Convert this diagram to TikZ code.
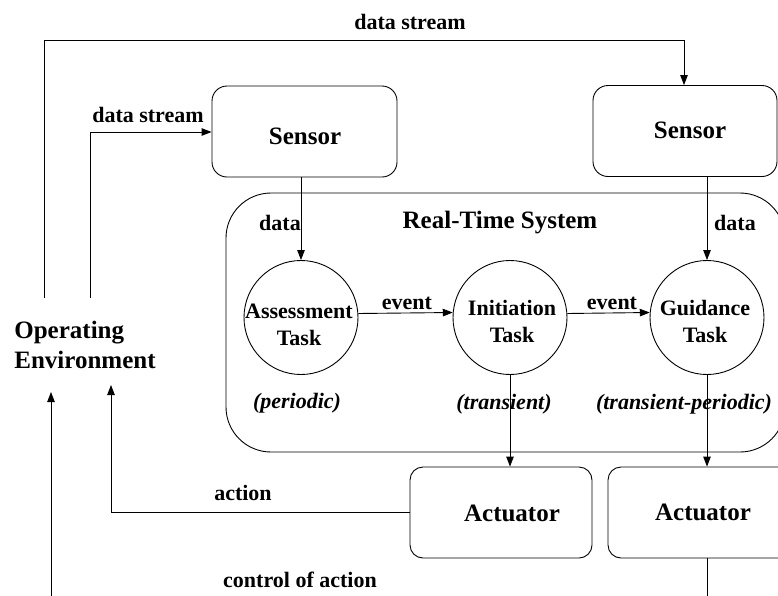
\documentclass[tikz,border=0pt]{standalone}
\usepackage{fontspec}
\setmainfont{Liberation Serif}
\usetikzlibrary{arrows.meta}
\begin{document}
\begin{tikzpicture}[x=1pt,y=-1pt,
  every node/.style={font=\fontsize{22}{27}\selectfont\bfseries, inner sep=0pt},
  big/.style={font=\fontsize{25}{30}\selectfont\bfseries},
  lab/.style={font=\fontsize{22}{27}\selectfont\bfseries},
  ital/.style={font=\fontsize{22}{27}\selectfont\bfseries\itshape},
  sbox/.style={draw, line width=0.9pt, rounded corners=15pt, minimum width=#1, minimum height=91pt},
  task/.style={draw, line width=0.9pt, circle, minimum size=114pt, align=center},
  conn/.style={line width=0.9pt, -{Triangle[length=10pt,width=7.5pt]}},
  plain/.style={line width=0.9pt}
]
\useasboundingbox (0,0) rectangle (778,595);
\clip (0,0) rectangle (778,595);

% Real-time system container
\node[draw, line width=0.9pt, rounded corners=45pt, minimum width=559pt, minimum height=259pt] (rts) at (505.5,322.5) {};
\node[big] (rtslabel) at (500,223) {Real-Time System};

% Sensors
\node[sbox=185pt] (sensorA) at (304.5,131.5) {};
\node[big] (sensorAlab) at (305,136) {Sensor};
\node[sbox=184pt] (sensorB) at (685,131) {};
\node[big] (sensorBlab) at (690,130) {Sensor};

% Actuators
\node[sbox=182pt, rounded corners=13pt] (actA) at (501,512.5) {};
\node[big] (actAlab) at (512,513) {Actuator};
\node[sbox=187pt, rounded corners=13pt] (actB) at (701.5,512.5) {};
\node[big] (actBlab) at (703,512) {Actuator};

% Tasks
\node[task] (assess) at (301,317.5) {};
\node[lab, align=center] (assesslab) at (299,325) {Assessment\\Task};
\node[task] (init) at (510,317.5) {};
\node[lab, align=center] (initlab) at (512,321) {Initiation\\Task};
\node[task] (guide) at (707,317.5) {};
\node[lab, align=center] (guidelab) at (705,321) {Guidance\\Task};

\node[ital] (per) at (297,403) {(periodic)};
\node[ital] (tra) at (504,404) {(transient)};
\node[ital] (trp) at (684,404) {(transient-periodic)};

% Operating environment
\node[big, align=left] (env) at (85,345) {Operating\\Environment};

% Free-end coordinates
\coordinate (envA) at (44,298);
\coordinate (envB) at (90,298);
\coordinate (envC) at (111,385);
\coordinate (envD) at (51,392);
\coordinate (low) at (51,640);

% Top data stream
\draw[conn] (envA) |- (684,40) -- (sensorB.north -| 684,0);
\node[lab] (ds1) at (410,22) {data stream};

% Left data stream
\draw[conn] (envB) |- (sensorA.west |- 0,132);
\node[lab] (ds2) at (148,115) {data stream};

% data arrows
\draw[conn] (assess.north |- sensorA.south) -- (assess.north);
\node[lab] (d1) at (280,223) {data};
\draw[conn] (guide.north |- sensorB.south) -- (guide.north);
\node[lab] (d2) at (735,223) {data};

% events
\draw[conn] (assess.4.5) -- (init.175.5);
\node[lab] (e1) at (407,303) {event};
\draw[conn] (init.4.5) -- (guide.175.5);
\node[lab] (e2) at (612,303) {event};

% to actuators
\draw[conn] (init.south) -- (init.south |- actA.north);
\draw[conn] (guide.south) -- (guide.south |- actB.north);

% action
\draw[conn] (actA.west) -| (envC);
\node[lab] (act) at (243,493) {action};

% control of action
\draw[conn] (guide.south |- actB.south) -- (guide.south |- low) -- (low) -- (envD);
\node[lab] (coa) at (300,580) {control of action};
\end{tikzpicture}
\end{document}
